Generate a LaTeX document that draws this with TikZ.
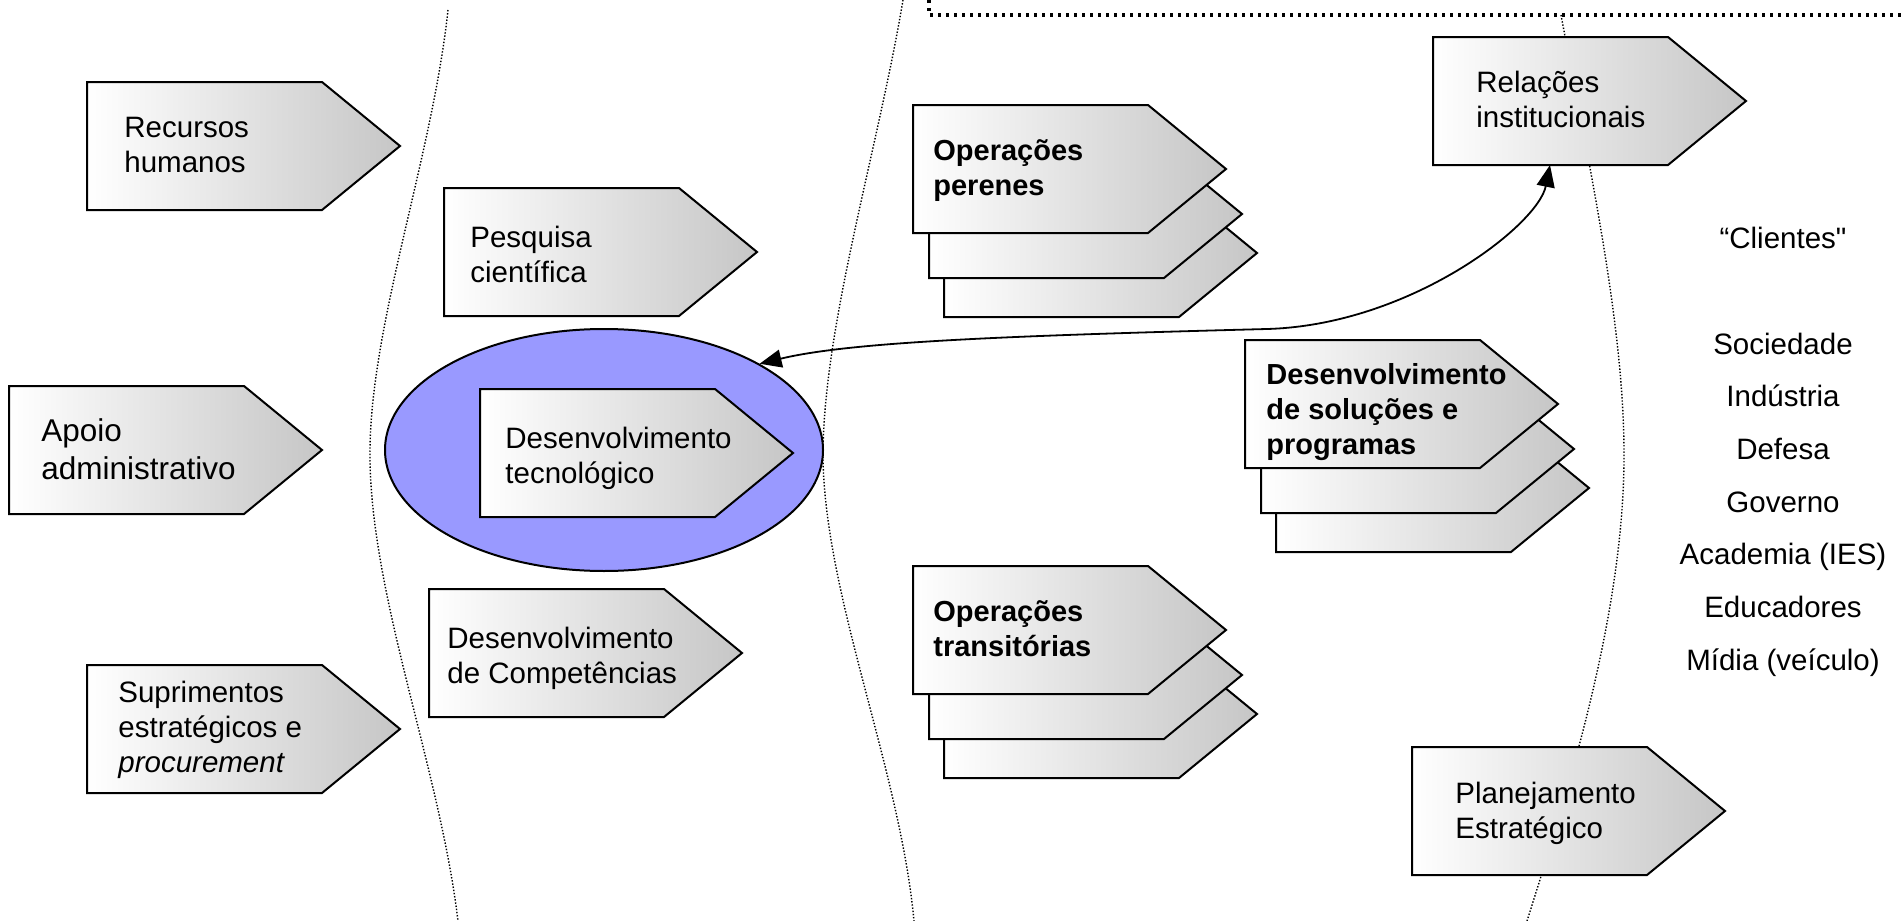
\documentclass[tikz,border=0pt]{standalone}
\usepackage{fontspec}
\setmainfont{Liberation Sans}
\newfontfamily\qfont{Liberation Sans}[Ligatures=TeXOff]
\usetikzlibrary{arrows.meta,shapes.geometric}
\definecolor{ellblue}{RGB}{153,153,255}
\definecolor{boxgray}{RGB}{198,198,198}
\newcommand\ml[1]{\begin{tabular}[t]{@{}l@{}}#1\end{tabular}}
\newcommand\mlc[1]{\begin{tabular}[t]{@{}c@{}}#1\end{tabular}}
\tikzset{
  pent/.style={draw=black, line width=1pt, left color=white, right color=boxgray},
  lbl/.style={anchor=base west, inner sep=0pt, font=\fontsize{14.75}{17.5}\selectfont},
  biglbl/.style={anchor=base west, inner sep=0pt, font=\fontsize{15.75}{19}\selectfont},
  blbl/.style={anchor=base west, inner sep=0pt, font=\fontsize{14.5}{17.5}\selectfont\bfseries},
  clbl/.style={anchor=base, inner sep=0pt, font=\fontsize{14.75}{26.35}\selectfont},
  sepcurve/.style={line width=0.7pt, dash pattern=on 0.7pt off 0.9pt},
  topdots/.style={line width=1.7pt, dash pattern=on 1.7pt off 2.3pt},
  conn/.style={line width=0.9pt, {Triangle[length=11pt,width=9pt]}-{Triangle[length=11pt,width=9pt]}},
}
\newcommand\pentbox[2]{\shadedraw[pent] (#1,#2) -- ++(235,0) -- ++(78,64) -- ++(-78,64) -- ++(-235,0) -- cycle;}
\newcommand\pentstack[2]{%
  \pentbox{#1+31}{#2+84}\pentbox{#1+16}{#2+45}\pentbox{#1}{#2}}
\begin{document}
\begin{tikzpicture}[x=0.5pt,y=-0.5pt]
\useasboundingbox (0,0) rectangle (1903,921);
\clip (0,0) rectangle (1903,921);
\fill[white] (0,0) rectangle (1903,921);

% separating dotted curves
\draw[sepcurve] (448,10) .. controls (432,160) and (368,330) .. (370,460)
   .. controls (372,600) and (440,770) .. (458,921);
\draw[sepcurve] (903,0) .. controls (878,150) and (822,330) .. (823,460)
   .. controls (826,600) and (900,770) .. (914,921);
\draw[sepcurve] (1561,15) .. controls (1590,170) and (1625,330) .. (1624,460)
   .. controls (1623,620) and (1565,800) .. (1527,921);

% thick dotted frame edge at top
\draw[topdots] (929,0) -- (929,15) -- (1910,15);

% ellipse
\node[ellipse, draw=black, line width=1pt, fill=ellblue, minimum width=219pt,
      minimum height=121pt, inner sep=0pt] (tecell) at (604,450) {};

% left column boxes
\pentbox{87}{82}
\node[lbl] (rh) at (124,137) {\ml{Recursos\\humanos}};
\pentbox{9}{386}
\node[biglbl] (ap) at (41,441) {\ml{Apoio\\administrativo}};
\pentbox{87}{665}
\node[lbl] (sup) at (118,702) {\ml{Suprimentos\\estratégicos e\\\textit{procurement}}};

% middle column boxes
\pentbox{444}{188}
\node[lbl] (pc) at (470,247) {\ml{Pesquisa\\científica}};
\pentbox{480}{389}
\node[lbl] (tec) at (505,448) {\ml{Desenvolvimento\\tecnológico}};
\pentbox{429}{589}
\node[lbl] (comp) at (447,648) {\ml{Desenvolvimento\\de Competências}};

% stacks
\pentstack{913}{105}
\node[blbl] (op) at (933,160) {\ml{Operações\\perenes}};
\pentstack{1245}{340}
\node[blbl] (sol) at (1266,384) {\ml{Desenvolvimento\\de soluções e\\programas}};
\pentstack{913}{566}
\node[blbl] (ot) at (933,621) {\ml{Operações\\transitórias}};

% right boxes
\pentbox{1433}{37}
\node[lbl] (rel) at (1476,92) {\ml{Relações\\institucionais}};
\pentbox{1412}{747}
\node[lbl] (pl) at (1455,803) {\ml{Planejamento\\Estratégico}};

% clients list
\node[clbl] (cli) at (1783,248) {“Clientes{\qfont"}};
\node[clbl] (clist) at (1783,354) {\mlc{Sociedade\\Indústria\\Defesa\\Governo\\Academia (IES)\\Educadores\\Mídia (veículo)}};

% connector
\coordinate (relS) at (1550,165);
\coordinate (arrmid) at (1267,329);
\draw[conn] (tecell.29) .. controls (850,342) and (1000,336) .. (arrmid)
   .. controls (1410,325) and (1538,225) .. (relS);
\end{tikzpicture}
\end{document}
